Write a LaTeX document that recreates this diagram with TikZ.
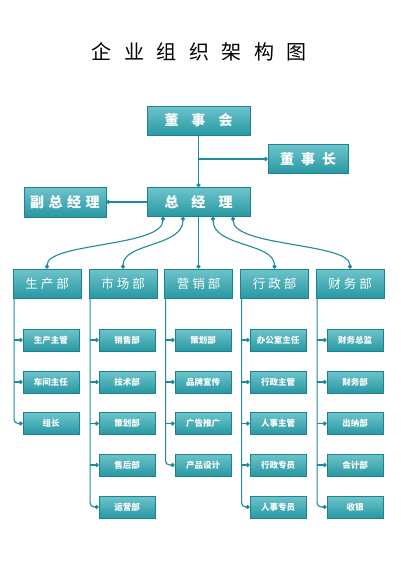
\documentclass[tikz,border=0pt]{standalone}
\usepackage{fontspec}
\setmainfont{Noto Sans CJK SC}
\usetikzlibrary{arrows.meta,positioning}
\definecolor{tealdark}{RGB}{28,132,144}
\definecolor{tealmid}{RGB}{40,152,163}
\definecolor{teallight}{RGB}{110,196,203}
\definecolor{tealline}{RGB}{30,140,152}
\newcommand{\tgap}{\hspace{12.5pt}}
\newcommand{\bgap}{\hspace{13pt}}
\newcommand{\cgap}{\hspace{7pt}}
\newcommand{\vgap}{\hspace{4.5pt}}
\newcommand{\dgap}{\hspace{3pt}}

\begin{document}
\begin{tikzpicture}[x=1pt,y=-1pt]
% Define node styles
\tikzstyle{box} = [draw=tealdark, line width=0.8pt, top color=teallight, bottom color=tealmid, text=white, inner sep=0pt]
\tikzstyle{bigbox} = [box, minimum width=103pt, minimum height=29pt, font=\fontsize{14}{16}\selectfont\bfseries]
\tikzstyle{deptbox} = [box, minimum width=68pt, minimum height=29pt, font=\fontsize{12.5}{14}\selectfont]
\tikzstyle{subbox} = [box, minimum width=56pt, minimum height=22pt, font=\fontsize{8.5}{10}\selectfont\bfseries]
\tikzstyle{link} = [draw=tealline, line width=1.1pt]
\tikzstyle{dotlink} = [link, -{Circle[length=4pt]}]
\tikzstyle{curve} = [link, {Circle[length=4pt]}-{Circle[length=4pt]}]

\fill[white] (0,0) rectangle (400,565);
\useasboundingbox (0,0) rectangle (400,565);

% Draw nodes
\node[font=\fontsize{20}{24}\selectfont] (title) at (199,52) {企\tgap 业\tgap 组\tgap 织\tgap 架\tgap 构\tgap 图};

\node[bigbox] (board) at (198.5,120.5) {董\bgap 事\bgap 会};
\node[bigbox, minimum width=80pt] (chair) at (308,159) {董\cgap 事\cgap 长};
\node[bigbox] (gm) at (198.5,202) {总\bgap 经\bgap 理};
\node[bigbox, minimum width=82pt, minimum height=30pt] (vgm) at (65,202) {副\vgap 总\vgap 经\vgap 理};

\node[deptbox] (d1) at (47,283.5) {生\dgap 产\dgap 部};
\node[deptbox] (d2) at (123,283.5) {市\dgap 场\dgap 部};
\node[deptbox] (d3) at (198.5,283.5) {营\dgap 销\dgap 部};
\node[deptbox] (d4) at (274.5,283.5) {行\dgap 政\dgap 部};
\node[deptbox] (d5) at (350,283.5) {财\dgap 务\dgap 部};

\node[subbox] (s11) at (51,340) {生产主管};
\node[subbox] (s12) at (51,382) {车间主任};
\node[subbox] (s13) at (51,423.5) {组长};

\node[subbox] (s21) at (127,340) {销售部};
\node[subbox] (s22) at (127,382) {技术部};
\node[subbox] (s23) at (127,423.5) {策划部};
\node[subbox] (s24) at (127,465) {售后部};
\node[subbox] (s25) at (127,507) {运营部};

\node[subbox] (s31) at (203,340) {策划部};
\node[subbox] (s32) at (203,382) {品牌宣传};
\node[subbox] (s33) at (203,423.5) {广告推广};
\node[subbox] (s34) at (203,465) {产品设计};

\node[subbox] (s41) at (278,340) {办公室主任};
\node[subbox] (s42) at (278,382) {行政主管};
\node[subbox] (s43) at (278,423.5) {人事主管};
\node[subbox] (s44) at (278,465) {行政专员};
\node[subbox] (s45) at (278,507) {人事专员};

\node[subbox] (s51) at (355,340) {财务总监};
\node[subbox] (s52) at (355,382) {财务部};
\node[subbox] (s53) at (355,423.5) {出纳部};
\node[subbox] (s54) at (355,465) {会计部};
\node[subbox] (s55) at (355,507) {收银};

% Draw edges
\draw[dotlink] (board) -- (gm);
\draw[dotlink] (board.south |- chair.west) -- (chair.west);
\draw[dotlink] (gm.west) -- (vgm.east);

\draw[curve] ([xshift=-35.5pt]gm.south) .. controls +(0,30) and +(0,-26) .. (d1.north);
\draw[curve] ([xshift=-15.5pt]gm.south) .. controls +(0,30) and +(0,-26) .. (d2.north);
\draw[dotlink] (gm.south) -- (d3.north);
\draw[curve] ([xshift=14.5pt]gm.south) .. controls +(0,30) and +(0,-26) .. (d4.north);
\draw[curve] ([xshift=34.5pt]gm.south) .. controls +(0,30) and +(0,-26) .. (d5.north);

% Draw brackets
\coordinate (b1) at ([xshift=1.5pt]d1.south west);
\coordinate (b2) at ([xshift=1.5pt]d2.south west);
\coordinate (b3) at ([xshift=1.5pt]d3.south west);
\coordinate (b4) at ([xshift=1.5pt]d4.south west);
\coordinate (b5) at ([xshift=1.5pt]d5.south west);

\draw[dotlink, rounded corners=4pt] (b1) |- (s13.west);
\draw[dotlink] (b1 |- s11.west) -- (s11.west);
\draw[dotlink] (b1 |- s12.west) -- (s12.west);

\draw[dotlink, rounded corners=4pt] (b2) |- (s25.west);
\draw[dotlink] (b2 |- s21.west) -- (s21.west);
\draw[dotlink] (b2 |- s22.west) -- (s22.west);
\draw[dotlink] (b2 |- s23.west) -- (s23.west);
\draw[dotlink] (b2 |- s24.west) -- (s24.west);

\draw[dotlink, rounded corners=4pt] (b3) |- (s34.west);
\draw[dotlink] (b3 |- s31.west) -- (s31.west);
\draw[dotlink] (b3 |- s32.west) -- (s32.west);
\draw[dotlink] (b3 |- s33.west) -- (s33.west);

\draw[dotlink, rounded corners=4pt] (b4) |- (s45.west);
\draw[dotlink] (b4 |- s41.west) -- (s41.west);
\draw[dotlink] (b4 |- s42.west) -- (s42.west);
\draw[dotlink] (b4 |- s43.west) -- (s43.west);
\draw[dotlink] (b4 |- s44.west) -- (s44.west);

\draw[dotlink, rounded corners=4pt] (b5) |- (s55.west);
\draw[dotlink] (b5 |- s51.west) -- (s51.west);
\draw[dotlink] (b5 |- s52.west) -- (s52.west);
\draw[dotlink] (b5 |- s53.west) -- (s53.west);
\draw[dotlink] (b5 |- s54.west) -- (s54.west);
\end{tikzpicture}
\end{document}
